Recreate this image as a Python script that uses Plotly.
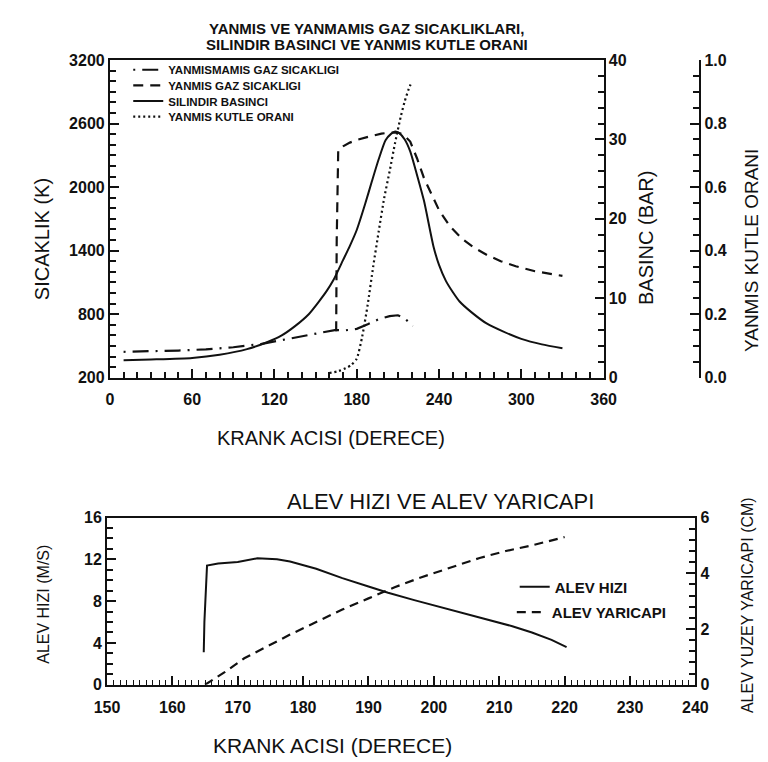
import plotly.graph_objects as go

# ---------------- Top chart data ----------------
theta_unburned = [10, 30, 50, 70, 90, 110, 125, 140, 152, 164, 172, 180, 188, 196, 204, 210, 215, 221]
temp_unburned = [445, 450, 457, 468, 488, 518, 555, 595, 625, 650, 648, 662, 705, 752, 782, 790, 760, 690]

theta_burned = [165, 165.4, 166.5, 170, 175, 180, 190, 198, 205, 210, 214, 219, 224, 229, 235, 240, 248, 257, 266, 275, 285, 296, 310, 320, 330]
temp_burned = [640, 1500, 2350, 2385, 2420, 2445, 2480, 2505, 2515, 2515, 2495, 2430, 2270, 2086, 1920, 1783, 1630, 1510, 1425, 1359, 1300, 1253, 1205, 1180, 1162]

theta_press = [10, 30, 60, 80, 100, 115, 125, 135, 145, 152, 158, 163, 170, 175, 180, 186, 191, 196, 201, 205, 208, 211, 215, 219, 224, 229, 236, 240, 245, 250, 255, 264, 275, 287, 300, 315, 330]
press_bar = [2.2, 2.3, 2.5, 2.9, 3.6, 4.5, 5.3, 6.5, 8.0, 9.5, 10.9, 12.3, 14.8, 16.6, 18.6, 21.8, 24.7, 27.5, 29.9, 30.7, 31.0, 30.8, 30.0, 28.5, 25.5, 22.3, 16.5, 14.2, 12.2, 10.8, 9.6, 8.2, 6.8, 5.8, 4.9, 4.2, 3.7]

theta_mfb = [160, 166, 172, 176, 180, 184, 188, 192, 196, 200, 204, 208, 212, 215, 218, 220]
mfb = [0.015, 0.02, 0.03, 0.04, 0.06, 0.13, 0.23, 0.35, 0.46, 0.565, 0.65, 0.74, 0.82, 0.87, 0.91, 0.93]

# ---------------- Bottom chart data ----------------
theta_speed = [164.8, 164.9, 165.3, 167, 170, 173, 176, 178, 182, 186, 190, 193, 197, 200, 204, 208, 212, 215, 218, 220.3]
flame_speed = [3.1, 6.0, 11.4, 11.6, 11.75, 12.1, 12.0, 11.8, 11.1, 10.2, 9.4, 8.8, 8.1, 7.6, 7.0, 6.3, 5.6, 5.0, 4.3, 3.6]

theta_radius = [165, 168, 171, 175, 178, 182, 186, 190, 194, 198, 203, 207, 211, 215, 220]
flame_radius = [0.0, 0.45, 0.95, 1.45, 1.8, 2.25, 2.7, 3.1, 3.5, 3.85, 4.25, 4.55, 4.8, 5.0, 5.3]

top_xticks = [0, 60, 120, 180, 240, 300, 360]
top_yticks = [200, 800, 1400, 2000, 2600, 3200]
press_ticks = [0, 10, 20, 30, 40]
mfb_ticks = [0.0, 0.2, 0.4, 0.6, 0.8, 1.0]
bot_xticks = [150, 160, 170, 180, 190, 200, 210, 220, 230, 240]
speed_ticks = [0, 4, 8, 12, 16]
radius_ticks = [0, 2, 4, 6]

W, H = 768, 762
FONT = "Liberation Sans, Arial, sans-serif"
INK = "#111111"

def px(x):
    return x / W

def py(y):
    return 1 - y / H

fig = go.Figure()

fig.add_trace(go.Scatter(x=theta_unburned, y=temp_unburned, mode="lines", name="<b>YANMISMAMIS GAZ SICAKLIGI</b>",
                         line=dict(color=INK, width=2.2, dash="2px,7px,16px,7px"), xaxis="x", yaxis="y",
                         legend="legend", showlegend=True))
fig.add_trace(go.Scatter(x=theta_burned, y=temp_burned, mode="lines", name="<b>YANMIS GAZ SICAKLIGI</b>",
                         line=dict(color=INK, width=2.2, dash="10px,7px"), xaxis="x", yaxis="y",
                         legend="legend3", showlegend=True))
fig.add_trace(go.Scatter(x=theta_press, y=press_bar, mode="lines", name="<b>SILINDIR BASINCI</b>",
                         line=dict(color=INK, width=2, shape="spline", smoothing=0.6), xaxis="x", yaxis="y2",
                         legend="legend4", showlegend=True))
fig.add_trace(go.Scatter(x=theta_mfb, y=mfb, mode="lines", name="<b>YANMIS KUTLE ORANI</b>",
                         line=dict(color=INK, width=2.2, dash="2px,3px", shape="spline", smoothing=0.6), xaxis="x", yaxis="y3",
                         legend="legend5", showlegend=True))

fig.add_trace(go.Scatter(x=theta_speed, y=flame_speed, mode="lines", name="<b>ALEV HIZI</b>",
                         line=dict(color=INK, width=2), xaxis="x2", yaxis="y4", legend="legend2", showlegend=True))
fig.add_trace(go.Scatter(x=theta_radius, y=flame_radius, mode="lines", name="<b>ALEV YARICAPI</b>",
                         line=dict(color=INK, width=2.2, dash="9px,6px"), xaxis="x2", yaxis="y5", legend="legend6", showlegend=True))

tickfont = dict(family=FONT, size=16, color=INK, weight="bold")
common = dict(showgrid=False, zeroline=False, showline=True, linecolor=INK, linewidth=2,
              ticks="inside", tickcolor=INK, tickwidth=1.6, ticklen=9, tickfont=tickfont)
minor_style = dict(ticks="inside", ticklen=6, tickcolor=INK, tickwidth=1.5)

top_dom_x = [px(92), px(603)]
top_dom_y = [py(370), py(45)]
bot_dom_x = [px(89), px(698)]
bot_dom_y = [py(684), py(513)]

def leg(x, y, size):
    return dict(x=px(x), y=py(y), xanchor="left", yanchor="middle", bgcolor="rgba(0,0,0,0)",
                borderwidth=0, font=dict(family=FONT, size=size, color=INK), tracegroupgap=0, itemwidth=30,
                visible=True)

fig.update_layout(
    width=W, height=H, margin=dict(l=0, r=0, t=0, b=0),
    paper_bgcolor="white", plot_bgcolor="white", showlegend=True,
    font=dict(family=FONT, color=INK),
    xaxis=dict(domain=top_dom_x, range=[0, 360], anchor="y", tickvals=top_xticks, mirror=True,
               ticklabelstandoff=6, minor=dict(dtick=10, **minor_style), **common),
    yaxis=dict(domain=top_dom_y, range=[200, 3200], anchor="x", tickvals=top_yticks,
               minor=dict(dtick=100, tick0=200, **minor_style), **common),
    yaxis2=dict(domain=top_dom_y, range=[0, 40], anchor="x", overlaying="y", side="right", tickvals=press_ticks,
                minor=dict(dtick=2, **minor_style), **common),
    yaxis3=dict(domain=top_dom_y, range=[0, 1], anchor="free", position=px(703), overlaying="y", side="right",
                tickvals=mfb_ticks, tickformat=".1f",
                minor=dict(dtick=0.05, **minor_style), **common),
    xaxis2=dict(domain=bot_dom_x, range=[150, 240], anchor="y4", tickvals=bot_xticks, mirror=True,
                ticklabelstandoff=7, minor=dict(dtick=1, ticks="inside", ticklen=5, tickcolor=INK, tickwidth=1.2), **common),
    yaxis4=dict(domain=bot_dom_y, range=[0, 16], anchor="x2", tickvals=speed_ticks,
                minor=dict(dtick=1, **minor_style), **common),
    yaxis5=dict(domain=bot_dom_y, range=[0, 6], anchor="x2", overlaying="y4", side="right", tickvals=radius_ticks,
                minor=dict(dtick=0.4, **minor_style), **common),
    legend=leg(111, 55, 11.5),
    legend3=leg(111, 71, 11.5),
    legend4=leg(111, 87, 11.5),
    legend5=leg(111, 103, 11.5),
    legend2=leg(511, 584, 15),
    legend6=leg(508, 610, 15),
)

def ann(text, x, y, size, angle=0, bold=False):
    fig.add_annotation(text=text, x=px(x), y=py(y), xref="paper", yref="paper", showarrow=False,
                       textangle=angle, font=dict(family=FONT, size=size, color=INK, weight="bold" if bold else "normal"),
                       xanchor="center", yanchor="middle")

ann("YANMIS VE YANMAMIS GAZ SICAKLIKLARI,", 358, 13, 15, bold=True)
ann("SILINDIR BASINCI VE YANMIS KUTLE ORANI", 358, 29, 15, bold=True)
ann("SICAKLIK (K)", 22, 228, 20, -90)
ann("BASINC (BAR)", 647, 227, 20, -90)
ann("YANMIS KUTLE ORANI", 756, 240, 19, -90)
ann("KRANK ACISI (DERECE)", 321, 432, 20)
ann("ALEV HIZI VE ALEV YARICAPI", 434, 497, 22)
ann("ALEV HIZI (M/S)", 23, 602, 16, -90)
ann("ALEV YUZEY YARICAPI (CM)", 752, 603, 16, -90)
ann("KRANK ACISI (DERECE)", 322, 746, 21)

fig.write_html("out.html")
